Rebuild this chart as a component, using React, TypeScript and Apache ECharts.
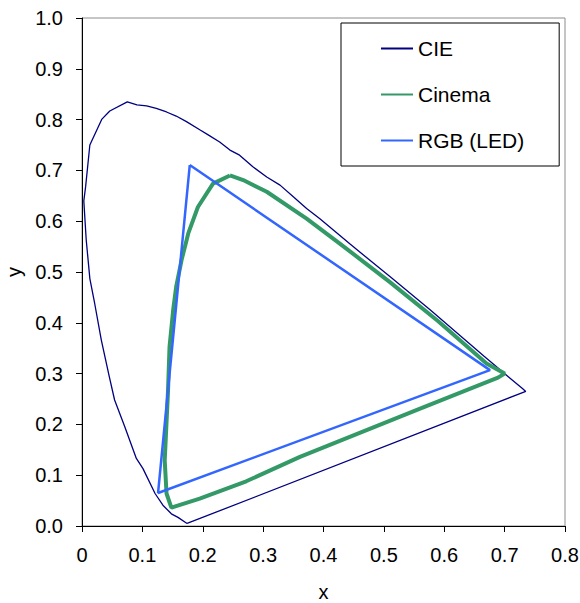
import React, { useEffect, useRef } from "react";
import * as echarts from "echarts";

const xTicks = [0, 0.1, 0.2, 0.3, 0.4, 0.5, 0.6, 0.7, 0.8];
const yTicks = [0, 0.1, 0.2, 0.3, 0.4, 0.5, 0.6, 0.7, 0.8, 0.9, 1.0];

const seriesNames = ["CIE", "Cinema", "RGB (LED)"];

const cieX = [0.174, 0.159, 0.148, 0.134, 0.121, 0.101, 0.090, 0.071, 0.054, 0.045, 0.032, 0.021, 0.013, 0.007, 0.003, 0.006, 0.013, 0.033, 0.046, 0.075, 0.091, 0.107, 0.123, 0.140, 0.156, 0.173, 0.195, 0.209, 0.228, 0.245, 0.261, 0.283, 0.306, 0.328, 0.350, 0.372, 0.394, 0.444, 0.513, 0.577, 0.627, 0.666, 0.692, 0.708, 0.719, 0.726, 0.730, 0.735, 0.174];
const cieY = [0.005, 0.017, 0.024, 0.041, 0.064, 0.113, 0.133, 0.195, 0.248, 0.295, 0.366, 0.438, 0.487, 0.563, 0.640, 0.668, 0.750, 0.801, 0.817, 0.835, 0.829, 0.827, 0.822, 0.815, 0.807, 0.796, 0.780, 0.770, 0.756, 0.740, 0.730, 0.707, 0.687, 0.671, 0.648, 0.625, 0.605, 0.555, 0.488, 0.425, 0.374, 0.334, 0.308, 0.292, 0.281, 0.274, 0.270, 0.265, 0.005];

const cinemaX = [0.245, 0.267, 0.306, 0.372, 0.427, 0.510, 0.590, 0.670, 0.700, 0.689, 0.560, 0.361, 0.272, 0.195, 0.148, 0.140, 0.137, 0.1425, 0.145, 0.151, 0.156, 0.165, 0.176, 0.192, 0.217, 0.245];
const cinemaY = [0.690, 0.681, 0.658, 0.605, 0.556, 0.480, 0.403, 0.320, 0.300, 0.292, 0.231, 0.136, 0.088, 0.054, 0.036, 0.064, 0.129, 0.267, 0.353, 0.425, 0.471, 0.524, 0.576, 0.628, 0.674, 0.690];

const ledX = [0.1785, 0.6757, 0.126, 0.1785];
const ledY = [0.7105, 0.3069, 0.065, 0.7105];

const zip = (xs: number[], ys: number[]) => xs.map((x, i) => [x, ys[i]]);

const FONT = "Liberation Sans, Arial, sans-serif";

export default function App() {
  const ref = useRef<HTMLDivElement>(null);
  useEffect(() => {
    if (!ref.current) return;
    const chart = echarts.init(ref.current, null, { renderer: "svg" });
    chart.setOption({
      animation: false,
      backgroundColor: "#ffffff",
      textStyle: { fontFamily: FONT },
      grid: {
        left: 82,
        top: 18,
        right: 15,
        bottom: 77,
        show: true,
        borderColor: "#8c8c8c",
        borderWidth: 1,
        backgroundColor: "transparent",
        containLabel: false,
        outerBoundsMode: "none",
      },
      legend: {
        data: seriesNames,
        orient: "vertical",
        left: 341,
        top: 23,
        padding: [15, 35, 15, 39],
        itemGap: 25,
        itemWidth: 32,
        itemHeight: 14,
        itemTextGap: 6,
        itemStyle: { opacity: 0 },
        borderColor: "#000000",
        borderWidth: 1,
        backgroundColor: "#ffffff",
        textStyle: { fontFamily: FONT, fontSize: 21, color: "#000" },
      },
      xAxis: {
        type: "value",
        min: 0,
        max: 0.8,
        interval: 0.1,
        name: "x",
        nameLocation: "middle",
        nameGap: 56,
        nameTextStyle: { fontFamily: FONT, fontSize: 20, color: "#000" },
        axisLine: { show: true, onZero: false, lineStyle: { color: "#000", width: 1 } },
        axisTick: { show: true, inside: false, length: 6, lineStyle: { color: "#000" } },
        axisLabel: {
          margin: 19,
          fontFamily: FONT,
          fontSize: 20,
          color: "#000",
          formatter: (v: number) => {
            const t = xTicks.find((k) => Math.abs(k - v) < 1e-6);
            const val = t === undefined ? v : t;
            return val === 0 ? "0" : val.toFixed(1);
          },
        },
        splitLine: { show: false },
      },
      yAxis: {
        type: "value",
        min: 0,
        max: 1.0,
        interval: 0.1,
        name: "y",
        nameLocation: "middle",
        nameGap: 57,
        nameTextStyle: { fontFamily: FONT, fontSize: 20, color: "#000" },
        axisLine: { show: true, onZero: false, lineStyle: { color: "#000", width: 1 } },
        axisTick: { show: true, inside: false, length: 6, lineStyle: { color: "#000" } },
        axisLabel: {
          margin: 19,
          fontFamily: FONT,
          fontSize: 20,
          color: "#000",
          formatter: (v: number) => {
            const t = yTicks.find((k) => Math.abs(k - v) < 1e-6);
            return (t === undefined ? v : t).toFixed(1);
          },
        },
        splitLine: { show: false },
      },
      series: [
        {
          name: seriesNames[0],
          type: "line",
          data: zip(cieX, cieY),
          showSymbol: false,
          symbol: "none",
          lineStyle: { color: "#000080", width: 1.3 },
          itemStyle: { color: "#000080" },
          z: 2,
        },
        {
          name: seriesNames[1],
          type: "line",
          data: zip(cinemaX, cinemaY),
          showSymbol: false,
          symbol: "none",
          lineStyle: { color: "#339966", width: 4 },
          itemStyle: { color: "#339966" },
          z: 3,
        },
        {
          name: seriesNames[2],
          type: "line",
          data: zip(ledX, ledY),
          showSymbol: false,
          symbol: "none",
          lineStyle: { color: "#3366ff", width: 2.5 },
          itemStyle: { color: "#3366ff" },
          z: 4,
        },
      ],
    });
    return () => chart.dispose();
  }, []);
  return (
    <div
      ref={ref}
      style={{ position: "absolute", left: 0, top: 0, width: 580, height: 603 }}
    />
  );
}
